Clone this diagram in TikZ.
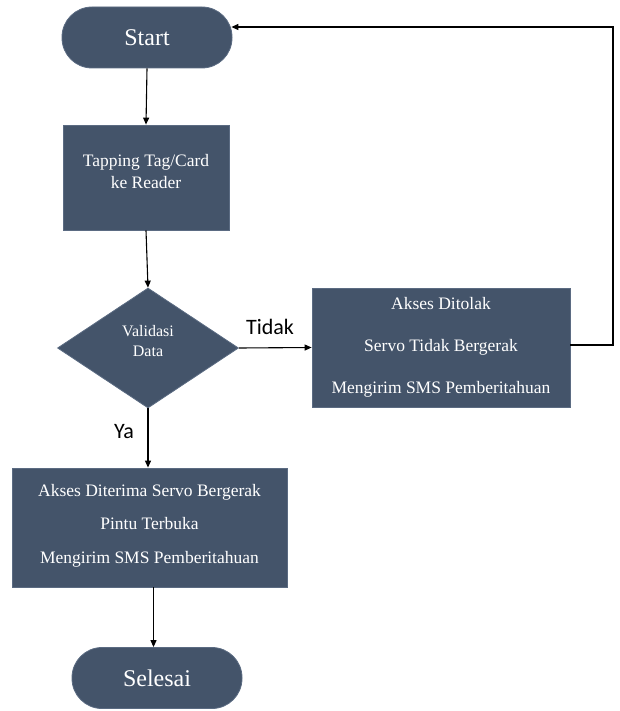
\documentclass[tikz,border=0pt]{standalone}
\usepackage{fontspec}
\setmainfont{Liberation Serif}
\newfontfamily\labelfont{Carlito}
\usetikzlibrary{shapes.geometric,arrows.meta}
\definecolor{boxblue}{HTML}{44546A}
\definecolor{boxedge}{HTML}{5B6B82}
\begin{document}
\begin{tikzpicture}[x=1pt,y=-1pt,
  base/.style={fill=boxblue,draw=boxedge,line width=0.8pt,text=white,align=center,inner sep=0pt},
  term/.style={base,rectangle,rounded corners=30pt,minimum width=170pt,minimum height=61pt,font=\fontsize{24}{28}\selectfont},
  proc/.style={base,rectangle,font=\fontsize{17.5}{22}\selectfont},
  dec/.style={base,diamond,aspect=1.5,minimum width=181pt,minimum height=120pt},
  intext/.style={text=white,align=center,inner sep=0pt},
  conn/.style={line width=1.1pt,-{Triangle[length=7pt,width=6pt]}},
  lbl/.style={font=\labelfont\fontsize{22}{24}\selectfont,inner sep=0pt}]
\useasboundingbox (0,0) rectangle (619,711);
\node[term] (start) at (147,37.5) {Start};
\node[proc,minimum width=166pt,minimum height=105pt] (tap) at (146,177.5) {};
\node[intext,font=\fontsize{17.5}{22}\selectfont] (taptext) at (146,171.5) {Tapping Tag/Card\\ke Reader};
\node[dec] (val) at (148,348) {};
\node[intext,font=\fontsize{16}{20}\selectfont] (valtext) at (148,341.5) {Validasi\\Data};
\node[proc,minimum width=258pt,minimum height=119pt,font=\fontsize{17.5}{42}\selectfont] (rej) at (441,347.5) {Akses Ditolak\\Servo Tidak Bergerak\\Mengirim SMS Pemberitahuan};
\node[proc,minimum width=275pt,minimum height=119pt] (acc) at (149.5,527.5) {};
\node[intext,font=\fontsize{17.5}{33.5}\selectfont] (acctext) at (149.5,525.5) {Akses Diterima Servo Bergerak\\Pintu Terbuka\\Mengirim SMS Pemberitahuan};
\node[term] (end) at (157,678) {Selesai};
\coordinate (r1) at (613,345);
\coordinate (r2) at (613,27);
\draw[conn] (start.south) -- (tap.north);
\draw[conn] (tap.south) -- (val.north);
\draw[conn] (val.east) -- (rej.west);
\draw[conn] (rej.east |- r1) -- (r1) -- (r2) -- ([xshift=-1pt]start.east |- r2);
\draw[conn] (val.south) -- (val.south |- acc.north);
\draw[conn] ([xshift=4pt]acc.south) -- ([xshift=4pt]acc.south |- end.north);
\node[lbl] (tidak) at (270,327) {Tidak};
\node[lbl] (ya) at (124,432) {Ya};
\end{tikzpicture}
\end{document}
